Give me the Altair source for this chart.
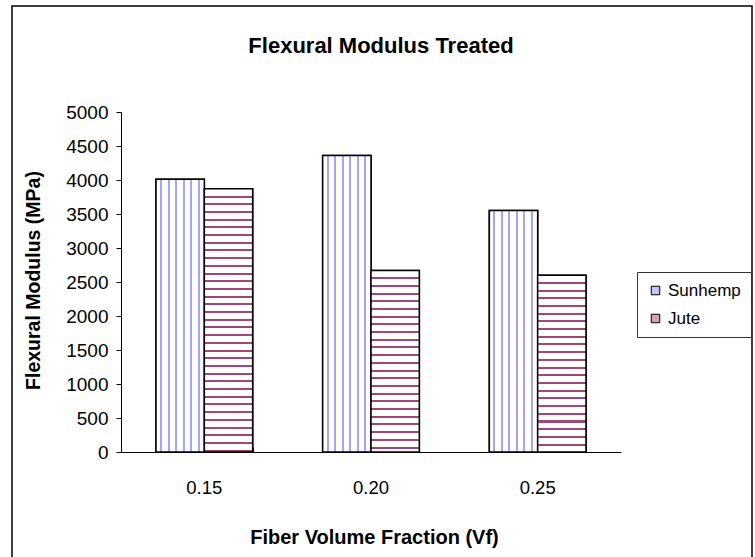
import altair as alt
import pandas as pd

# ---- data ----
vf = ["0.15", "0.20", "0.25"]
series = ["Sunhemp", "Jute"]
sunhemp = [4010, 4360, 3550]
jute = [3870, 2670, 2600]

rows = []
for i, v in enumerate(vf):
    rows.append({"vf": v, "series": "Sunhemp", "value": sunhemp[i]})
    rows.append({"vf": v, "series": "Jute", "value": jute[i]})
df = pd.DataFrame(rows)

FONT = "Liberation Sans"
W, H = 500, 340
YMAX = 5000
PX = H / YMAX
BAR_W = W / 3 * 0.58 / 2


def stripe_gradient(length_px, pitch, first, half, color, horizontal):
    stops = [alt.GradientStop(color="white", offset=0)]
    c = first
    while c + half < length_px:
        a = max((c - half) / length_px, 0)
        b = min((c + half) / length_px, 1)
        stops += [
            alt.GradientStop(color="white", offset=a),
            alt.GradientStop(color=color, offset=a),
            alt.GradientStop(color=color, offset=b),
            alt.GradientStop(color="white", offset=b),
        ]
        c += pitch
    stops.append(alt.GradientStop(color="white", offset=1))
    if horizontal:
        return alt.LinearGradient(gradient="linear", stops=stops, x1=0, x2=1, y1=0, y2=0)
    return alt.LinearGradient(gradient="linear", stops=stops, x1=0, x2=0, y1=0, y2=1)


x_scale = alt.Scale(domain=vf, paddingInner=0.42, paddingOuter=0.21)
off_scale = alt.Scale(domain=series, paddingInner=0, paddingOuter=0)
y_scale = alt.Scale(domain=[0, YMAX], nice=False)

y_enc = alt.Y(
    "value:Q",
    scale=y_scale,
    axis=alt.Axis(
        values=list(range(0, 5001, 500)), format="d",
        title="Flexural Modulus (MPa)",
        titleFont=FONT, titleFontSize=19.5, titleFontWeight="bold", titleColor="black",
        titleAngle=270, titleX=-88, titleY=H / 2 - 2, titleAlign="center", titleBaseline="middle",
        labelFont=FONT, labelFontSize=19, labelColor="black", labelPadding=8,
        tickSize=5, tickColor="black", domainColor="black", grid=False,
    ),
)

base = alt.Chart(df).mark_bar(stroke="black", strokeWidth=1.5).encode(
    x=alt.X(
        "vf:N", scale=x_scale, sort=vf,
        axis=alt.Axis(
            orient="bottom", ticks=False, labelAngle=0,
            labelFont=FONT, labelFontSize=18.5, labelColor="black", labelPadding=26,
            domainColor="black",
            title="Fiber Volume Fraction (Vf)",
            titleFont=FONT, titleFontSize=20, titleFontWeight="bold", titleColor="black",
            titleX=253, titleY=85, titleBaseline="middle", titleAlign="center",
        ),
    ),
    xOffset=alt.XOffset("series:N", scale=off_scale, sort=series),
    y=y_enc,
    color=alt.Color(
        "series:N",
        scale=alt.Scale(domain=series, range=["#c4c4ff", "#d9a0bd"]),
        legend=alt.Legend(
            title=None, orient="none", legendX=516, legendY=160,
            labelFont=FONT, labelFontSize=17, labelColor="black", labelOffset=4,
            symbolType="square", symbolSize=72, symbolStrokeColor="black", symbolStrokeWidth=1,
            rowPadding=10, padding=10, strokeColor="#333333", fillColor="white",
        ),
    ),
)

layers = [base]

# Sunhemp: vertical blue stripes
sun_fill = stripe_gradient(BAR_W, 7.5, 5.0, 1.0, "#a4a4ff", horizontal=True)
layers.append(
    alt.Chart(df).transform_filter(alt.datum.series == "Sunhemp")
    .mark_bar(fill=sun_fill, stroke="black", strokeWidth=1.5)
    .encode(
        x=alt.X("vf:N", scale=x_scale, sort=vf, axis=None),
        xOffset=alt.XOffset("series:N", scale=off_scale, sort=series),
        y=y_enc,
    )
)

# Jute: horizontal maroon stripes (one gradient per bar height)
for v, val in zip(vf, jute):
    h = val * PX
    jf = stripe_gradient(h, 7.7, 7.7, 1.0, "#a24676", horizontal=False)
    layers.append(
        alt.Chart(df).transform_filter(
            (alt.datum.series == "Jute") & (alt.datum.vf == v)
        )
        .mark_bar(fill=jf, stroke="black", strokeWidth=1.5)
        .encode(
            x=alt.X("vf:N", scale=x_scale, sort=vf, axis=None),
            xOffset=alt.XOffset("series:N", scale=off_scale, sort=series),
            y=y_enc,
        )
    )

# upward category-boundary ticks on the x axis
layers.append(
    alt.Chart(df).mark_point(opacity=0).encode(
        x=alt.X(
            "vf:N", scale=x_scale, sort=vf,
            axis=alt.Axis(
                orient="bottom", labels=False, domain=False, ticks=True,
                tickBand="extent", tickSize=5, tickColor="black", offset=-5, title=None,
            ),
        ),
        y=y_enc,
    )
)

# outer chart frame
frame = alt.Chart(alt.Data(values=[{}])).mark_rect(
    fillOpacity=0, stroke="black", strokeWidth=1.5
).encode(
    x=alt.value(12 - 121), x2=alt.value(752 - 121),
    y=alt.value(6 - 112), y2=alt.value(600 - 112),
)
layers.append(frame)

chart = (
    alt.layer(*layers)
    .resolve_axis(x="independent")
    .properties(
        width=W, height=H,
        title=alt.TitleParams(
            "Flexural Modulus Treated", font=FONT, fontSize=22, fontWeight="bold",
            color="black", anchor="middle", frame="group", dx=10, offset=-70,
            baseline="alphabetic",
        ),
        autosize=alt.AutoSizeParams(type="none"),
        padding={"left": 121, "top": 112, "right": 134, "bottom": 105},
        background="white",
    )
    .configure_view(strokeWidth=0)
)

chart.save("out.html", embed_options={"renderer": "svg", "actions": False})
